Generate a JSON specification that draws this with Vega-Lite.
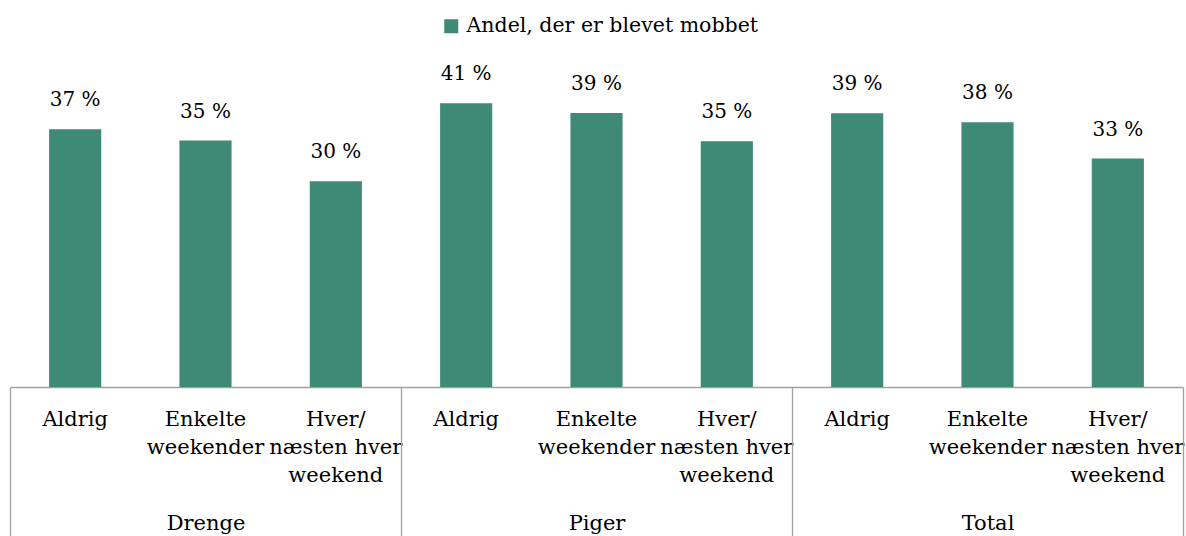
{
  "$schema": "https://vega.github.io/schema/vega-lite/v6.json",
  "width": 1173,
  "height": 313,
  "autosize": {"type": "none"},
  "padding": {"left": 10, "top": 74, "right": 3, "bottom": 149},
  "config": {"view": {"stroke": null}, "font": "DejaVu Serif"},
  "data": {
    "values": [
      {"gruppe": "Drenge", "kategori": "Aldrig", "serie": "Andel, der er blevet mobbet", "value": 37.05, "label": "37 %"},
      {"gruppe": "Drenge", "kategori": "Enkelte weekender", "serie": "Andel, der er blevet mobbet", "value": 35.43, "label": "35 %"},
      {"gruppe": "Drenge", "kategori": "Hver/ næsten hver weekend", "serie": "Andel, der er blevet mobbet", "value": 29.58, "label": "30 %"},
      {"gruppe": "Piger", "kategori": "Aldrig", "serie": "Andel, der er blevet mobbet", "value": 40.79, "label": "41 %"},
      {"gruppe": "Piger", "kategori": "Enkelte weekender", "serie": "Andel, der er blevet mobbet", "value": 39.4, "label": "39 %"},
      {"gruppe": "Piger", "kategori": "Hver/ næsten hver weekend", "serie": "Andel, der er blevet mobbet", "value": 35.33, "label": "35 %"},
      {"gruppe": "Total", "kategori": "Aldrig", "serie": "Andel, der er blevet mobbet", "value": 39.35, "label": "39 %"},
      {"gruppe": "Total", "kategori": "Enkelte weekender", "serie": "Andel, der er blevet mobbet", "value": 38.06, "label": "38 %"},
      {"gruppe": "Total", "kategori": "Hver/ næsten hver weekend", "serie": "Andel, der er blevet mobbet", "value": 32.84, "label": "33 %"}
    ]
  },
  "transform": [{"calculate": "datum.gruppe + '|' + datum.kategori", "as": "key"}],
  "layer": [
    {
      "encoding": {
        "x": {
          "field": "key",
          "type": "nominal",
          "sort": null,
          "scale": {"paddingInner": 0.6, "paddingOuter": 0.3},
          "axis": {
            "orient": "bottom",
            "title": null,
            "domain": true,
            "domainColor": "#a0a0a0",
            "domainWidth": 1.3,
            "ticks": false,
            "grid": false,
            "labelAngle": 0,
            "labelFont": "DejaVu Serif",
            "labelFontSize": 21,
            "labelColor": "#000000",
            "labelBaseline": "top",
            "labelPadding": 21,
            "labelLineHeight": 28.4,
            "labelLimit": 0,
            "labelOverlap": false,
            "labelExpr": "indexof(datum.value, 'Enkelte') >= 0 ? ['Enkelte', 'weekender'] : indexof(datum.value, 'Hver') >= 0 ? ['Hver/', 'næsten hver', 'weekend'] : 'Aldrig'"
          }
        },
        "y": {
          "field": "value",
          "type": "quantitative",
          "scale": {"domain": [0, 45]},
          "axis": null
        }
      },
      "layer": [
        {
          "mark": {"type": "bar"},
          "encoding": {
            "color": {
              "field": "serie",
              "type": "nominal",
              "scale": {"range": ["#3e8a76"]},
              "legend": {
                "title": null,
                "orient": "none",
                "legendX": 431,
                "legendY": -58,
                "symbolType": "square",
                "symbolSize": 196,
                "symbolStrokeWidth": 0,
                "symbolOpacity": 1,
                "labelFont": "DejaVu Serif",
                "labelFontSize": 20.5,
                "labelColor": "#000000",
                "labelOffset": 5,
                "labelLimit": 0
              }
            }
          }
        },
        {
          "mark": {"type": "text", "dy": -29, "baseline": "middle", "fontSize": 20, "font": "DejaVu Serif", "color": "#000000"},
          "encoding": {"text": {"field": "label"}}
        }
      ]
    },
    {
      "mark": {"type": "bar", "opacity": 0},
      "encoding": {
        "x": {
          "field": "gruppe",
          "type": "nominal",
          "sort": null,
          "scale": {"paddingInner": 0, "paddingOuter": 0},
          "axis": {
            "orient": "bottom",
            "title": null,
            "domain": false,
            "grid": false,
            "ticks": true,
            "tickBand": "extent",
            "tickSize": 150,
            "tickColor": "#a0a0a0",
            "tickWidth": 1.3,
            "labelAngle": 0,
            "labelFont": "DejaVu Serif",
            "labelFontSize": 21,
            "labelColor": "#000000",
            "labelBaseline": "alphabetic",
            "labelPadding": -8
          }
        },
        "y": {"field": "value", "type": "quantitative", "axis": null}
      }
    }
  ],
  "resolve": {"scale": {"x": "independent"}}
}
